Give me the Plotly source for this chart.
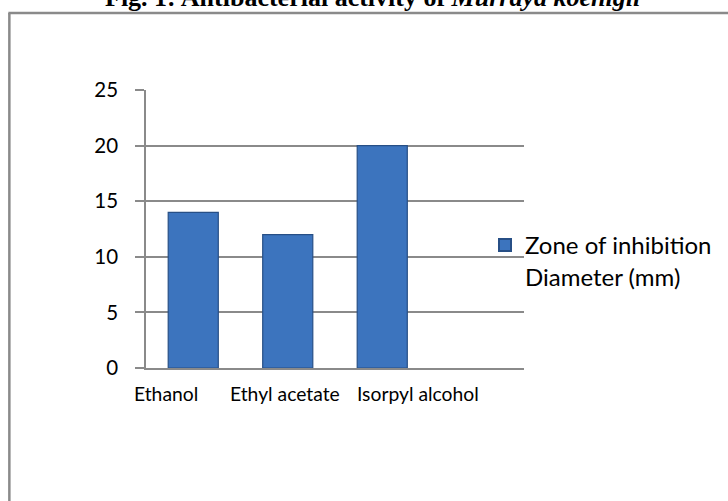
import plotly.graph_objects as go

categories = ["Ethanol", "Ethyl acetate", "Isorpyl alcohol"]
values = [14, 12, 20]
series_name = "Zone of inhibition<br>Diameter (mm)"
y_ticks = [0, 5, 10, 15, 20, 25]
label_shift = [-27, -3, 36]

W, H = 728, 501
L, R, T, B = 146, 728 - 525, 90, 501 - 368
pw, ph = W - L - R, H - T - B

def px(x):
    return (x - L) / pw

def py(y):
    return (H - B - y) / ph

grid = "#8a8a8a"
sans = "Lato, Open Sans, sans-serif"

fig = go.Figure()
fig.add_trace(go.Bar(
    x=categories, y=values, name=series_name, width=0.53,
    marker=dict(color="#3c74be", line=dict(color="#274f86", width=1.2)),
    showlegend=True,
))

for c, s in zip(categories, label_shift):
    fig.add_annotation(x=c, y=0, xref="x", yref="y", text=c, showarrow=False,
                       yanchor="middle", yshift=-25, xshift=s,
                       font=dict(family=sans, size=19.3, color="black"))

fig.add_annotation(x=0.5, xref="paper", y=py(14.5), yref="paper",
                   xshift=(373 - (L + pw / 2)),
                   text="<b>Fig. 1: Antibacterial activity of <i>Murraya koenigii</i></b>",
                   showarrow=False, yanchor="bottom",
                   font=dict(family="Liberation Serif, Times New Roman, serif", size=26, color="black"))

# outer frame
fig.add_shape(type="line", xref="paper", yref="paper", x0=px(9), x1=px(9), y0=py(13), y1=py(520),
              line=dict(color="#8a8a8a", width=2.5))
fig.add_shape(type="line", xref="paper", yref="paper", x0=px(8), x1=px(740), y0=py(13), y1=py(13),
              line=dict(color="#8a8a8a", width=2.5))

fig.update_layout(
    width=W, height=H,
    margin=dict(l=L, r=R, t=T, b=B, pad=0),
    paper_bgcolor="white", plot_bgcolor="white",
    font=dict(family=sans, color="black"),
    legend=dict(x=px(485), y=py(223), xanchor="left", yanchor="top", valign="top",
                font=dict(size=24, family=sans),
                bgcolor="rgba(0,0,0,0)", itemsizing="constant"),
    xaxis=dict(type="category", categoryorder="array", categoryarray=categories,
               range=[-0.5, 3.5], showticklabels=False, ticks="",
               showline=True, linecolor=grid, linewidth=1.5, showgrid=False, zeroline=False),
    yaxis=dict(range=[0, 25], tickvals=y_ticks, ticks="outside", ticklen=9, tickcolor=grid,
               tickwidth=1.5, showline=True, linecolor=grid, linewidth=1.5,
               showgrid=True, gridcolor=grid, gridwidth=1.5, zeroline=False,
               tickfont=dict(size=20.5, family=sans),
               ticklabelstandoff=13),
)

fig.write_html("out.html")
